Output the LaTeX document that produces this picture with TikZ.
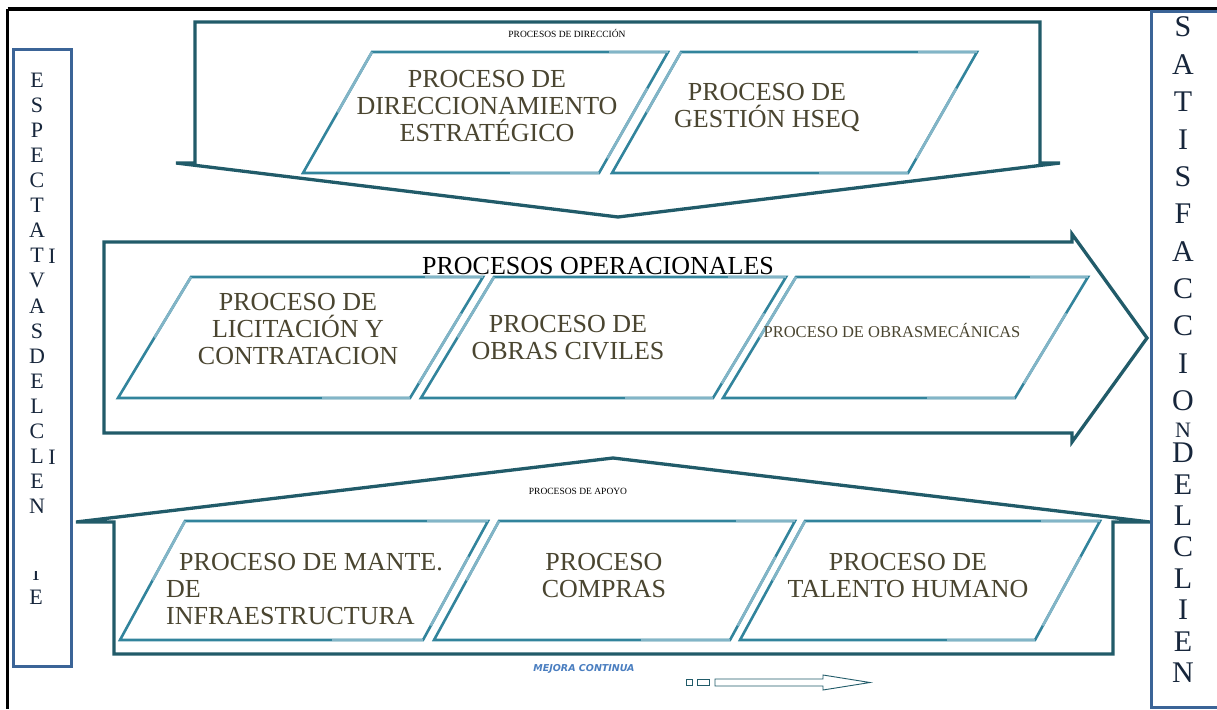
\documentclass[tikz,border=0pt]{standalone}
\usepackage{fontspec}
\setmainfont{Liberation Serif}
\newfontfamily\verd{DejaVu Sans}
\usetikzlibrary{calc}
\definecolor{frameblue}{HTML}{3B6497}
\definecolor{deepteal}{HTML}{215B69}
\definecolor{tealmid}{HTML}{32849C}
\definecolor{teallight}{HTML}{82B5C7}
\definecolor{olivetext}{HTML}{4A4530}
\definecolor{navytext}{HTML}{17263B}
\definecolor{mejorablue}{HTML}{4A7EC0}
\tikzset{
  outerframe/.style={draw=black,line width=3.3pt},
  sidebox/.style={draw=frameblue,line width=3pt},
  bigshape/.style={draw=deepteal,line width=3.3pt,line join=miter},
  paraedge/.style={draw=tealmid,line width=2.6pt,line join=miter},
  paralight/.style={draw=teallight,line width=2.6pt},
  ptext/.style={text=olivetext,font=\fontsize{26}{27}\selectfont,align=center,inner sep=0pt},
  smalltitle/.style={text=black,font=\fontsize{9.5}{10}\selectfont,inner sep=0pt},
  sideletter/.style={text=navytext,font=\fontsize{22}{22}\selectfont,inner sep=0pt},
  rightletter/.style={text=navytext,font=\fontsize{30}{30}\selectfont,inner sep=0pt},
}
\newcommand{\mypara}[5]{%
  \coordinate (tl) at (#3,#1);
  \coordinate (tr) at ({#3+#5},#1);
  \coordinate (br) at ({#4+#5},#2);
  \coordinate (bl) at (#4,#2);
  \draw[paraedge] (tl) -- (tr) -- (br) -- (bl) -- cycle;
  \draw[paralight] ($(tl)!0.8!(tr)$) -- (tr);
  \draw[paralight] ($(tr)!0.3!(br)$) -- ($(tr)!0.88!(br)$);
  \draw[paralight] ($(bl)!0.7!(br)$) -- (br);
  \draw[paralight] (tl) -- ($(tl)!0.5!(bl)$);
}
\begin{document}
\begin{tikzpicture}[x=1pt,y=-1pt]
\useasboundingbox (0,0) rectangle (1217,709);
\fill[white] (0,0) rectangle (1217,709);
% outer black frame (top and left)
\draw[outerframe] (7.5,9) -- (1217,9);
\draw[outerframe] (7.5,9) -- (7.5,709);
% side boxes
\draw[sidebox] (13,50) rectangle (71,666);
\draw[sidebox] (1151,12) rectangle (1230,707);
% big shapes
\draw[bigshape] (176,163) -- (195,163) -- (195,22) -- (1040,22) -- (1040,163) -- (1060,163) -- (618,217) -- cycle;
\draw[bigshape] (104,242) -- (1072,242) -- (1072,234) -- (1147,338) -- (1072,442) -- (1072,433) -- (104,433) -- cycle;
\draw[bigshape] (76,522) -- (613,458) -- (1150,522) -- (1113,522) -- (1113,654) -- (114,654) -- (114,522) -- cycle;
% parallelograms
\mypara{52}{173}{372}{303}{296}
\mypara{52}{173}{681}{612}{296}
\mypara{277}{398}{191}{118}{292}
\mypara{277}{398}{494}{421}{292}
\mypara{277}{398}{796}{723}{292}
\mypara{521}{640}{185}{120}{303}
\mypara{521}{640}{499}{434}{296}
\mypara{521}{640}{805}{740}{295}
% titles
\node[smalltitle] (tdir) at (567,33) {PROCESOS DE DIRECCIÓN};
\node[text=black,font=\fontsize{26}{26}\selectfont,inner sep=0pt] (tope) at (598,266) {PROCESOS OPERACIONALES};
\node[smalltitle] (tapo) at (578,491) {PROCESOS DE APOYO};
\node[text=mejorablue,font=\verd\bfseries\itshape\fontsize{9.5}{10}\selectfont,inner sep=0pt] (tmej) at (584,669) {MEJORA CONTINUA};
% process texts
\node[ptext] (p1) at (487,106) {PROCESO DE\\DIRECCIONAMIENTO\\ESTRATÉGICO};
\node[ptext] (p2) at (767,107) {PROCESO DE\\GESTIÓN HSEQ};
\node[ptext] (p3) at (298,329) {PROCESO DE\\LICITACIÓN Y\\CONTRATACION};
\node[ptext] (p4) at (568,338) {PROCESO DE\\OBRAS CIVILES};
\node[ptext,font=\fontsize{16.5}{17}\selectfont] (p5) at (892,330) {PROCESO DE OBRASMECÁNICAS};
\node[ptext,align=left,anchor=west] (p6) at (166,589) {\hspace*{13pt}PROCESO DE MANTE.\\DE\\INFRAESTRUCTURA};
\node[ptext] (p7) at (604,576) {PROCESO\\COMPRAS};
\node[ptext] (p8) at (908,576) {PROCESO DE\\TALENTO HUMANO};
% mejora continua arrow
\draw[deepteal,line width=0.9pt] (686,679) rectangle (692,685);
\draw[deepteal,line width=0.9pt] (697,679) rectangle (709,685);
\draw[deepteal,line width=0.9pt] (715,679) -- (823,679) -- (823,675) -- (870,682.5) -- (823,690) -- (823,686) -- (715,686) -- cycle;
% left vertical text
\foreach \ch [count=\i from 0] in {E,S,P,E,C,T,A,T,V,A,S,D,E,L,C,L,E,N}
  \node[sideletter] (l\i) at (37,{80+25.1*\i}) {\ch};
\node[sideletter] (li1) at (52,256) {I};
\node[sideletter] (li2) at (52,457) {I};
\begin{scope}
  \clip (25,571) rectangle (50,582);
  \node[sideletter] (li3) at (36,573) {I};
\end{scope}
\node[sideletter] (le) at (36,597) {E};
% right vertical text
\foreach \ch [count=\i from 0] in {S,A,T,I,S,F,A,C,C,I,O}
  \node[rightletter] (r\i) at (1183,{27+37.4*\i}) {\ch};
\node[rightletter,font=\fontsize{22}{22}\selectfont] (rn) at (1183,430) {N};
\foreach \ch [count=\i from 0] in {D,E,L,C,L,I,E,N}
  \node[rightletter] (s\i) at (1183,{453+31.4*\i}) {\ch};
\end{tikzpicture}
\end{document}
